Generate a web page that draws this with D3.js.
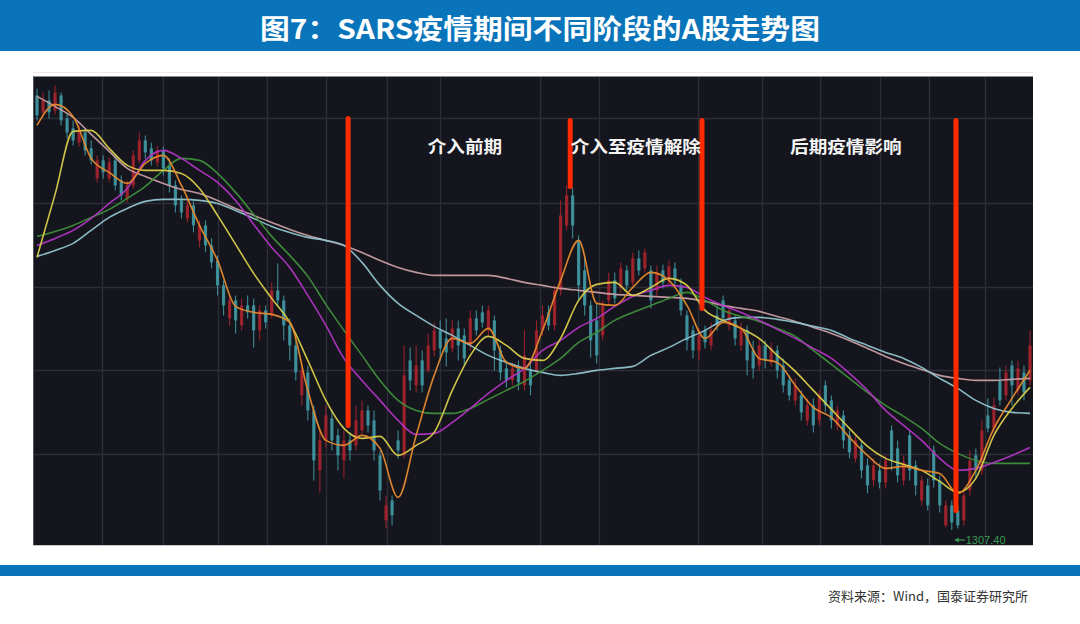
<!DOCTYPE html>
<html><head><meta charset="utf-8">
<script src="https://cdn.jsdelivr.net/npm/d3@7"></script>
<style>html,body{margin:0;padding:0;background:#fff;}svg{display:block;}</style>
</head><body>
<svg id="c" width="1080" height="624"></svg>
<script>
// ---- data (Shanghai Composite, daily candles) ----
const title = "图7：SARS疫情期间不同阶段的A股走势图";
const source = "资料来源：Wind，国泰证券研究所";
const phaseLabels = ["介入前期", "介入至疫情解除", "后期疫情影响"];
const phaseLabelIdx = [71.1, 99.5, 134.4];
const phaseLabelValue = 1692;
// event markers: [candle index, top value, bottom value]
const eventIdx = [51.7, 88.6, 110.5, 152.7];
const eventTop = [1719, 1717, 1717, 1717];
const eventBottom = [1412, 1651, 1529, 1327];
const gridIdx = [10.8, 20.9, 30.1, 38.2, 48.0, 58.1, 66.9, 83.6, 93.4, 109.8, 120.4, 130.1, 140.1, 148.3, 157.5];
const gridValues = [1383, 1467, 1550, 1634, 1719];
const lowLabel = "1307.40";

const opens = [1742,1725,1737,1727,1742,1719,1709,1695,1705,1689,1659,1677,1659,1677,1657,1639,1652,1677,1697,1689,1675,1687,1672,1652,1637,1619,1632,1597,1612,1592,1577,1552,1519,1537,1512,1532,1532,1507,1527,1522,1547,1537,1512,1492,1442,1465,1427,1367,1397,1419,1402,1377,1397,1392,1407,1427,1417,1382,1317,1337,1397,1382,1477,1452,1477,1467,1487,1507,1499,1489,1509,1502,1492,1519,1525,1507,1517,1487,1469,1457,1469,1452,1467,1467,1507,1525,1512,1547,1612,1642,1597,1567,1532,1517,1502,1537,1557,1550,1567,1555,1579,1569,1567,1547,1567,1557,1569,1552,1522,1507,1487,1507,1492,1522,1537,1512,1517,1492,1507,1487,1472,1492,1475,1487,1472,1457,1437,1442,1417,1432,1417,1452,1437,1412,1422,1402,1379,1392,1372,1357,1367,1355,1407,1389,1357,1402,1372,1337,1352,1387,1357,1312,1332,1327,1317,1347,1382,1367,1422,1409,1457,1442,1472,1447,1465,1457];
const closes = [1722,1737,1725,1745,1717,1705,1697,1707,1687,1677,1677,1665,1675,1652,1642,1652,1682,1697,1685,1677,1687,1669,1652,1632,1625,1632,1612,1612,1592,1575,1552,1532,1537,1517,1532,1525,1507,1527,1515,1547,1537,1512,1492,1465,1467,1427,1377,1397,1422,1397,1382,1397,1387,1417,1427,1412,1387,1347,1332,1322,1387,1462,1457,1472,1452,1492,1507,1489,1485,1509,1492,1479,1519,1507,1515,1527,1487,1465,1457,1469,1455,1482,1452,1507,1522,1512,1547,1622,1642,1612,1552,1532,1497,1482,1532,1557,1539,1569,1552,1579,1567,1585,1537,1565,1555,1571,1557,1527,1497,1487,1502,1495,1507,1512,1519,1527,1499,1509,1477,1469,1492,1477,1489,1467,1452,1442,1452,1425,1432,1412,1442,1432,1417,1427,1397,1385,1397,1367,1352,1372,1355,1377,1377,1362,1375,1367,1352,1357,1332,1357,1332,1332,1315,1312,1342,1377,1367,1407,1409,1432,1437,1465,1452,1469,1445,1492];
const highs = [1749,1745,1747,1752,1745,1725,1717,1712,1709,1697,1682,1682,1680,1682,1662,1657,1687,1705,1702,1695,1692,1691,1679,1657,1642,1637,1637,1617,1617,1599,1582,1557,1542,1542,1539,1542,1539,1532,1532,1555,1574,1542,1519,1497,1475,1472,1432,1407,1432,1427,1409,1407,1405,1432,1437,1432,1427,1387,1342,1342,1407,1492,1490,1492,1487,1504,1515,1517,1519,1517,1517,1509,1527,1527,1532,1532,1522,1492,1477,1475,1477,1507,1475,1517,1532,1532,1552,1637,1652,1650,1602,1582,1537,1534,1537,1565,1565,1575,1572,1585,1587,1589,1572,1572,1573,1577,1575,1559,1527,1512,1509,1512,1515,1532,1542,1532,1522,1515,1512,1497,1499,1497,1495,1492,1479,1462,1459,1447,1439,1439,1447,1457,1442,1432,1427,1407,1402,1397,1379,1379,1374,1382,1412,1397,1382,1407,1377,1362,1359,1392,1362,1337,1337,1332,1347,1387,1389,1417,1439,1440,1470,1472,1477,1477,1472,1507];
const lows = [1717,1721,1719,1723,1712,1699,1692,1691,1682,1673,1655,1659,1655,1647,1637,1635,1649,1674,1679,1672,1671,1662,1645,1625,1619,1615,1605,1590,1585,1569,1542,1522,1512,1504,1507,1519,1490,1497,1509,1519,1532,1497,1477,1457,1432,1417,1357,1345,1390,1387,1367,1359,1377,1387,1402,1405,1377,1337,1309,1312,1379,1379,1447,1445,1445,1465,1481,1477,1471,1485,1477,1472,1487,1502,1510,1502,1467,1457,1450,1452,1447,1447,1442,1465,1502,1507,1507,1542,1607,1599,1537,1522,1480,1474,1497,1532,1534,1545,1547,1551,1562,1565,1529,1542,1549,1553,1552,1522,1487,1479,1477,1489,1487,1507,1515,1507,1492,1487,1462,1459,1467,1469,1471,1459,1445,1437,1432,1417,1412,1405,1412,1425,1409,1407,1389,1379,1375,1359,1344,1351,1349,1349,1367,1355,1352,1357,1342,1332,1327,1350,1325,1310,1307.4,1309,1312,1342,1359,1362,1405,1405,1432,1437,1432,1442,1437,1452];

const maSampleStep = 3;
const ma5 = [1712,1733,1721,1679,1665,1654,1674,1682,1652,1612,1577,1531,1525,1523,1515,1447,1397,1392,1402,1389,1340,1402,1462,1499,1494,1509,1475,1469,1507,1557,1597,1534,1532,1550,1565,1557,1532,1499,1515,1509,1479,1475,1452,1430,1420,1400,1382,1369,1371,1367,1364,1344,1367,1409,1439,1467];
const ma10 = [1580,1643,1706,1707,1689,1672,1667,1667,1664,1649,1622,1593,1564,1539,1515,1477,1437,1409,1399,1401,1382,1392,1405,1447,1482,1501,1492,1479,1477,1499,1537,1553,1555,1542,1550,1559,1552,1527,1517,1509,1499,1482,1466,1447,1428,1409,1391,1379,1373,1367,1356,1345,1359,1402,1429,1450];
const ma20 = [1592,1599,1607,1619,1634,1649,1677,1687,1679,1667,1655,1637,1613,1590,1570,1542,1512,1479,1457,1437,1417,1403,1404,1415,1429,1444,1457,1469,1487,1497,1510,1519,1531,1541,1547,1552,1550,1540,1532,1525,1517,1508,1499,1489,1479,1464,1447,1427,1412,1397,1379,1367,1369,1375,1382,1390];
const ma30 = [1601,1606,1612,1620,1628,1639,1651,1667,1679,1677,1664,1645,1623,1601,1582,1561,1533,1507,1482,1457,1437,1427,1424,1424,1429,1438,1447,1456,1467,1479,1495,1505,1517,1525,1532,1539,1545,1537,1527,1521,1516,1509,1501,1487,1473,1459,1445,1432,1421,1409,1394,1384,1377,1374,1374,1374];
const ma60 = [1581,1587,1594,1607,1620,1629,1636,1638,1638,1637,1634,1627,1619,1611,1605,1600,1597,1592,1575,1552,1534,1522,1511,1502,1492,1482,1475,1469,1465,1462,1464,1467,1469,1471,1482,1490,1499,1507,1517,1520,1520,1518,1515,1511,1507,1499,1492,1485,1479,1470,1459,1449,1437,1429,1425,1424];
const ma120 = [1741,1731,1720,1703,1686,1669,1661,1654,1648,1644,1637,1629,1622,1615,1608,1602,1597,1592,1585,1577,1570,1565,1562,1562,1562,1562,1559,1555,1552,1549,1547,1545,1543,1542,1541,1540,1539,1536,1532,1529,1526,1521,1516,1510,1504,1497,1489,1481,1474,1468,1462,1459,1457,1457,1458,1459];
const maSeries = [
  {name:"MA120", values: ma120, color:"#c89ea4"},
  {name:"MA60", values: ma60, color:"#8fc3cc"},
  {name:"MA30", values: ma30, color:"#3f8f3c"},
  {name:"MA20", values: ma20, color:"#b235c4"},
  {name:"MA10", values: ma10, color:"#d9cd4a"},
  {name:"MA5", values: ma5, color:"#e58a2e"}
];

// ---- drawing ----
const svg = d3.select("#c");
const W = 1080;
const plot = {left:33, right:1033, top:76, bottom:546};

// header bar
svg.append("rect").attr("x",0).attr("y",0).attr("width",W).attr("height",51).attr("fill","#0a74ba");
svg.append("text").attr("x",W/2).attr("y",27).attr("text-anchor","middle")
  .attr("dominant-baseline","central")
  .attr("font-family","'Noto Sans CJK SC', 'Noto Sans', sans-serif").attr("font-weight","bold")
  .attr("font-size",27).attr("fill","#fff")
  .attr("textLength",560).attr("lengthAdjust","spacingAndGlyphs").text(title);

// faint frame above picture
svg.append("line").attr("x1",33).attr("x2",1033).attr("y1",72.5).attr("y2",72.5).attr("stroke","#f6e6e8").attr("stroke-width",1);

// chart background
svg.append("rect").attr("x",plot.left).attr("y",plot.top).attr("width",plot.right-plot.left).attr("height",plot.bottom-plot.top).attr("fill","#15161d");
svg.append("line").attr("x1",plot.left).attr("x2",plot.right).attr("y1",plot.top+0.5).attr("y2",plot.top+0.5).attr("stroke","#8a8a90").attr("stroke-width",1.2);
svg.append("line").attr("x1",plot.left+0.5).attr("x2",plot.left+0.5).attr("y1",plot.top).attr("y2",plot.bottom).attr("stroke","#55565c").attr("stroke-width",1);
svg.append("line").attr("x1",plot.left).attr("x2",plot.right).attr("y1",plot.bottom-0.5).attr("y2",plot.bottom-0.5).attr("stroke","#c8c8cc").attr("stroke-width",1);

const x = d3.scaleLinear().domain([0, closes.length-1]).range([37, 1030]);
const y = d3.scaleLinear().domain([1291.4, 1761.4]).range([plot.bottom, plot.top]);

const g = svg.append("g");
// grid
g.selectAll(".gv").data(gridIdx).join("line")
  .attr("x1",d=>Math.round(x(d))+0.5).attr("x2",d=>Math.round(x(d))+0.5)
  .attr("y1",plot.top+1).attr("y2",plot.bottom-1)
  .attr("stroke","#2d2e37").attr("stroke-width",1.3);
g.selectAll(".gh").data(gridValues).join("line")
  .attr("x1",plot.left+1).attr("x2",plot.right)
  .attr("y1",d=>Math.round(y(d))+0.5).attr("y2",d=>Math.round(y(d))+0.5)
  .attr("stroke","#2d2e37").attr("stroke-width",1.3);

// candles
const idx = d3.range(closes.length);
const upC = "#a3232d", dnC = "#3f97a2";
const cg = g.append("g");
cg.selectAll(".wick").data(idx).join("line")
  .attr("x1",i=>x(i)).attr("x2",i=>x(i))
  .attr("y1",i=>y(highs[i])).attr("y2",i=>y(lows[i]))
  .attr("stroke",i=>closes[i]>=opens[i]?upC:dnC).attr("stroke-width",1.1).attr("opacity",0.9);
cg.selectAll(".body").data(idx).join("rect")
  .attr("x",i=>x(i)-1.6).attr("width",3.2)
  .attr("y",i=>y(Math.max(opens[i],closes[i])))
  .attr("height",i=>Math.max(1, Math.abs(y(opens[i])-y(closes[i]))))
  .attr("fill",i=>closes[i]>=opens[i]?upC:dnC).attr("opacity",0.9);

// MA lines
const line = d3.line().x((d,k)=>x(k*maSampleStep)).y(d=>y(d)).curve(d3.curveMonotoneX);
g.selectAll(".ma").data(maSeries).join("path")
  .attr("d",s=>line(s.values)).attr("fill","none")
  .attr("stroke",s=>s.color).attr("stroke-width",1.6).attr("opacity",0.95);

// low marker
const lowVal = d3.min(lows), lowI = lows.indexOf(lowVal);
const lx = x(lowI), ly = y(lowVal);
g.append("line").attr("x1",lx+3).attr("x2",lx+13).attr("y1",ly+10).attr("y2",ly+10).attr("stroke","#3a9a52").attr("stroke-width",1.2);
g.append("path").attr("d",`M${lx+3},${ly+10} l4,-2.5 l0,5 z`).attr("fill","#3a9a52");
g.append("text").attr("x",lx+14).attr("y",ly+10).attr("dominant-baseline","central")
  .attr("font-family","Arial, 'Liberation Sans', sans-serif").attr("font-size",11).attr("fill","#3a9a52")
  .text(lowLabel);

// event lines
g.selectAll(".ev").data(eventIdx).join("line")
  .attr("x1",d=>x(d)).attr("x2",d=>x(d))
  .attr("y1",(d,k)=>y(eventTop[k])).attr("y2",(d,k)=>y(eventBottom[k]))
  .attr("stroke","#ff2a00").attr("stroke-width",5).attr("stroke-linecap","round");

// phase labels
g.selectAll(".pl").data(phaseLabels).join("text")
  .attr("x",(d,k)=>x(phaseLabelIdx[k])).attr("y",y(phaseLabelValue))
  .attr("text-anchor","middle").attr("dominant-baseline","central")
  .attr("font-family","'Noto Sans CJK SC', sans-serif").attr("font-weight","bold")
  .attr("font-size",17).attr("fill","#f4f4f4")
  .attr("textLength",d=>d.length*18.6).attr("lengthAdjust","spacingAndGlyphs")
  .text(d=>d);

// footer
svg.append("rect").attr("x",0).attr("y",565).attr("width",W).attr("height",11).attr("fill","#0a74ba");
svg.append("text").attr("x",1028).attr("y",595).attr("text-anchor","end").attr("dominant-baseline","central")
  .attr("font-family","'Noto Sans CJK SC', sans-serif").attr("font-size",13).attr("fill","#333")
  .attr("textLength",200).attr("lengthAdjust","spacingAndGlyphs").text(source);
</script>
</body></html>
